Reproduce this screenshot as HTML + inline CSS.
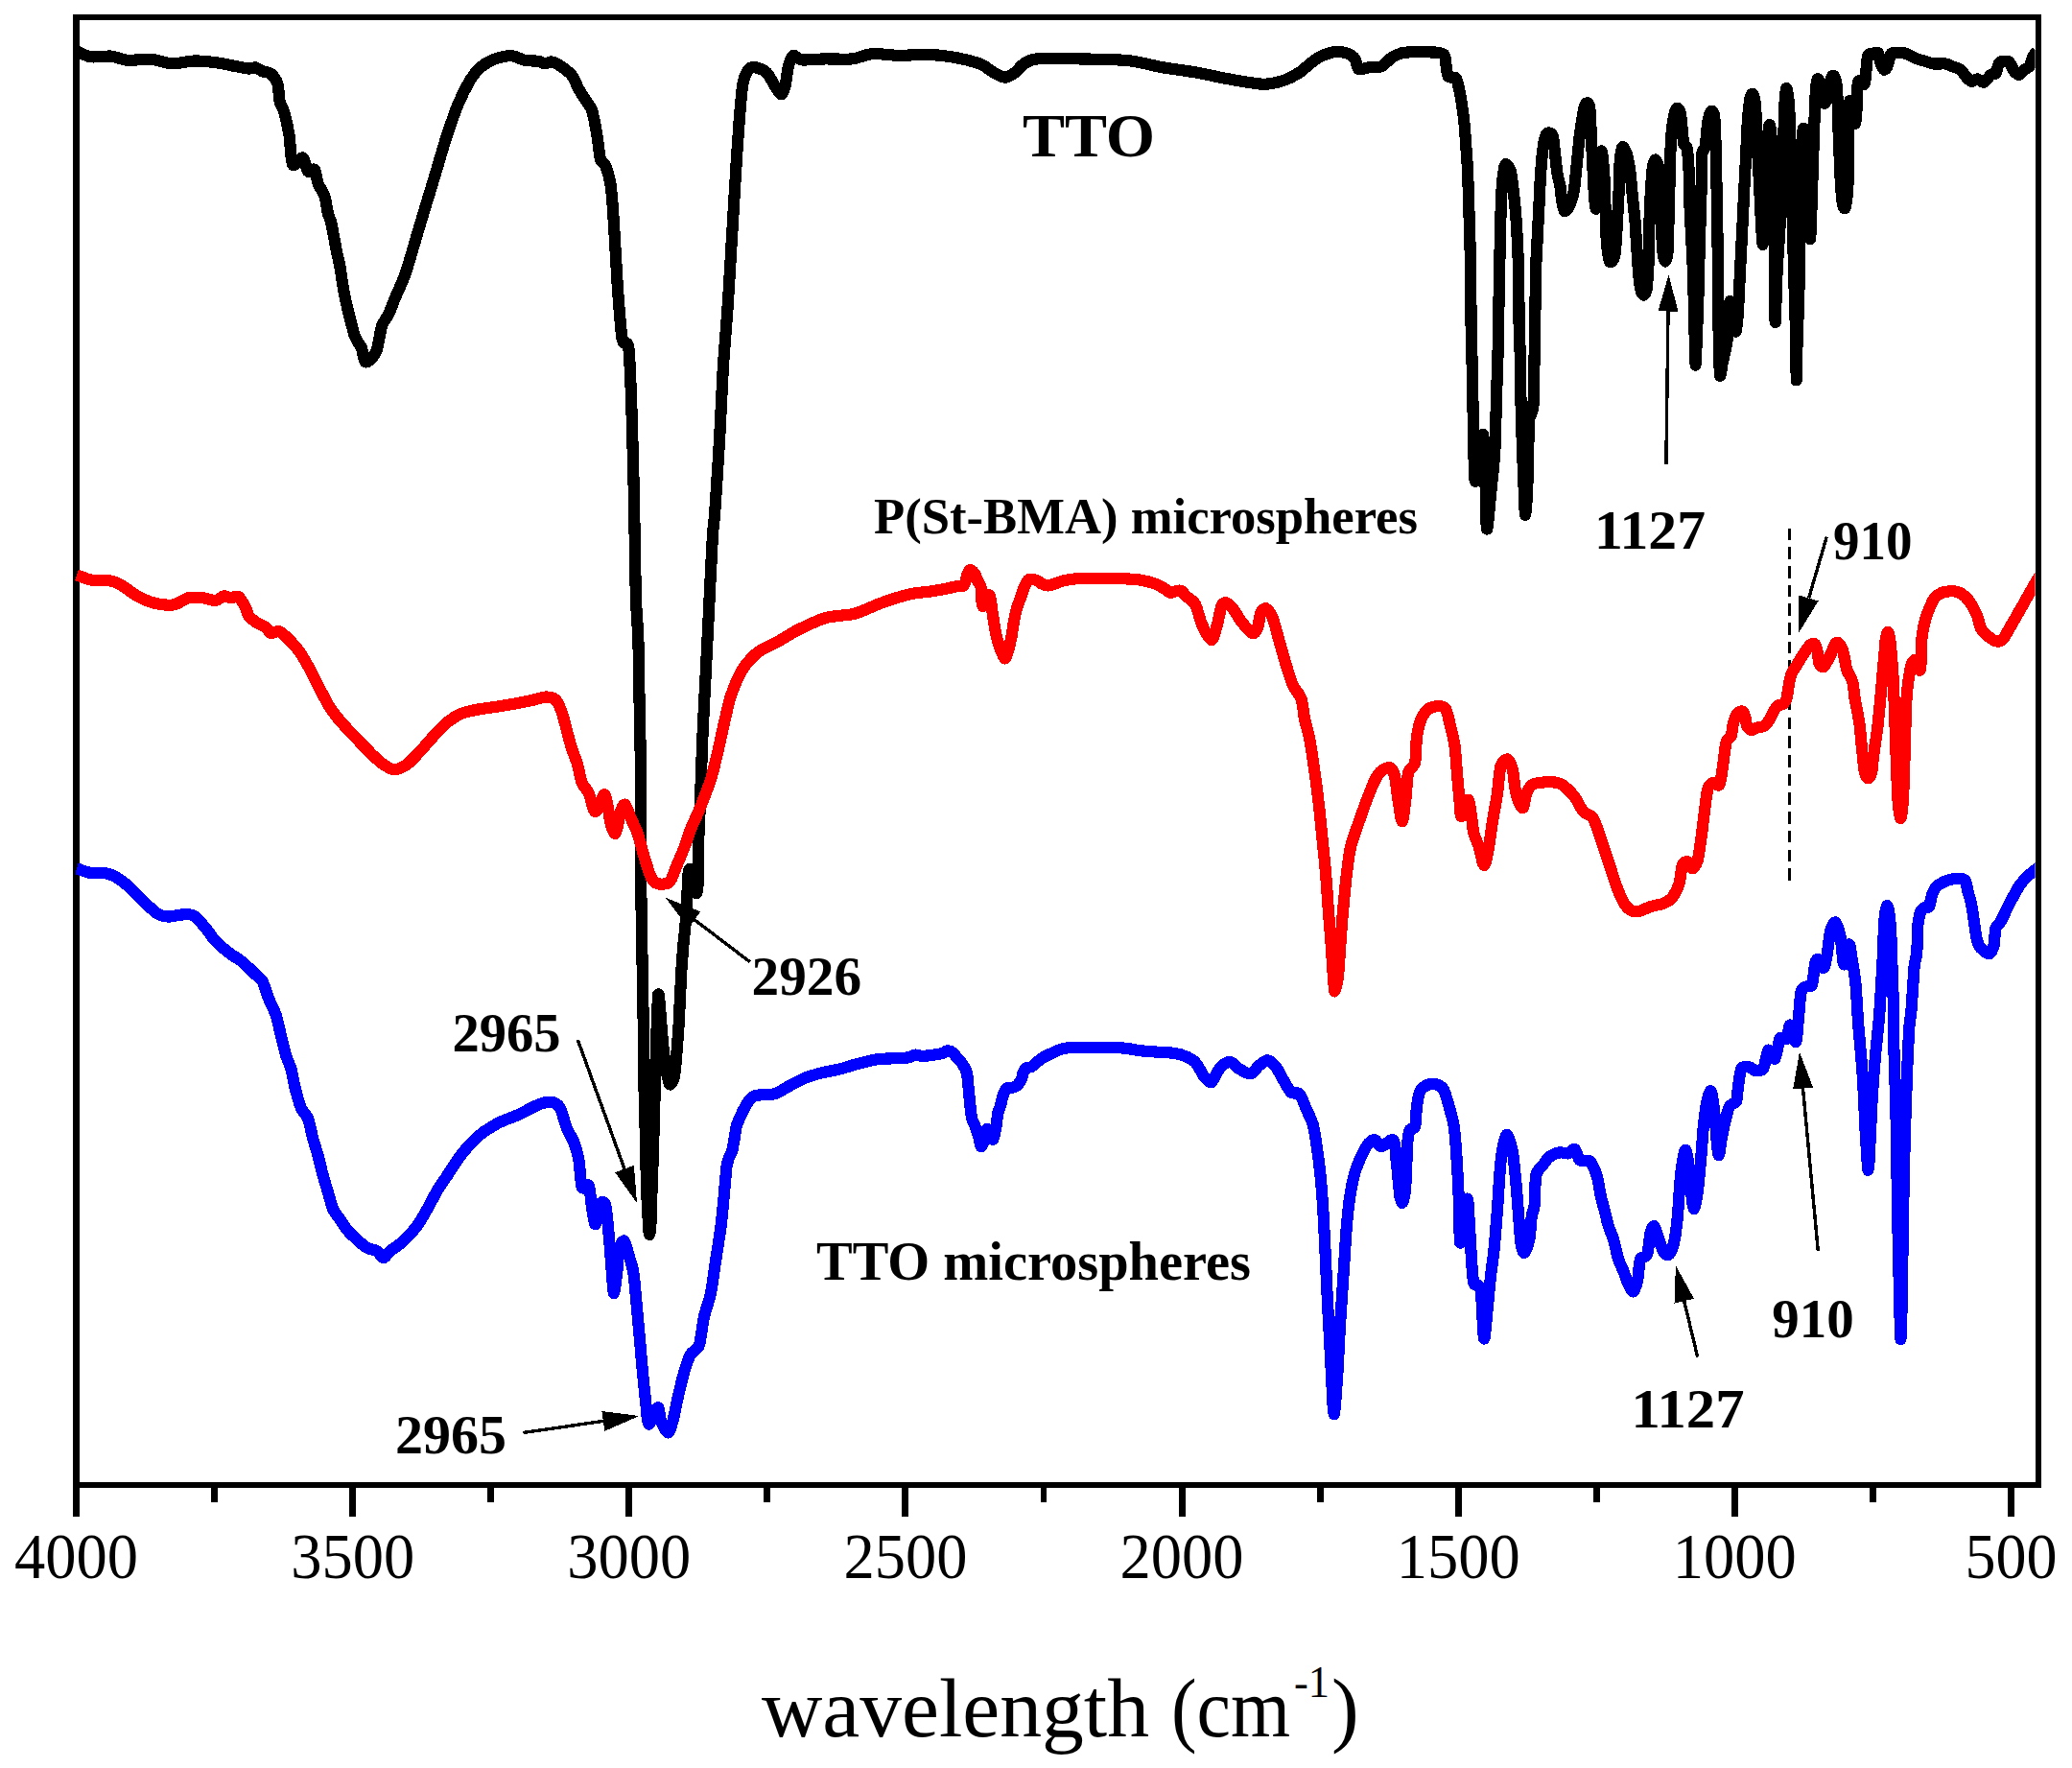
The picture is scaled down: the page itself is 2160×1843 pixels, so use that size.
<!DOCTYPE html>
<html><head><meta charset="utf-8"><title>FTIR spectra</title>
<style>html,body{margin:0;padding:0;background:#fff}svg{display:block}</style></head>
<body>
<svg width="2160" height="1843" viewBox="0 0 2160 1843" shape-rendering="crispEdges">
<rect x="0" y="0" width="2160" height="1843" fill="#fff"/>
<path d="M79.5,15 L79.5,1550.8 M2125,15 L2125,1550.8" fill="none" stroke="#000" stroke-width="6.9"/>
<path d="M76.05,18 L2128.45,18 M76.05,1547.8 L2128.45,1547.8" fill="none" stroke="#000" stroke-width="6"/>
<path d="M79.5,1547.8 L79.5,1580.5 M367.6,1547.8 L367.6,1580.5 M655.8,1547.8 L655.8,1580.5 M943.9,1547.8 L943.9,1580.5 M1232.1,1547.8 L1232.1,1580.5 M1520.2,1547.8 L1520.2,1580.5 M1808.3,1547.8 L1808.3,1580.5 M2096.5,1547.8 L2096.5,1580.5 M223.6,1547.8 L223.6,1566 M511.7,1547.8 L511.7,1566 M799.8,1547.8 L799.8,1566 M1088.0,1547.8 L1088.0,1566 M1376.1,1547.8 L1376.1,1566 M1664.3,1547.8 L1664.3,1566 M1952.4,1547.8 L1952.4,1566" fill="none" stroke="#000" stroke-width="6.9"/>
<path d="M1865.4,917.8 L1865.4,543.7" stroke="#000" stroke-width="3.2" stroke-dasharray="12.6,7.1" fill="none"/>
<defs><clipPath id="cp"><rect x="76.05" y="18" width="2045.5" height="1529.8"/></clipPath></defs>
<path clip-path="url(#cp)" d="M80.0,53.3 C82.1,54.1 89.7,58.6 94.7,59.3 C99.7,60.0 110.3,58.1 115.7,58.6 C121.1,59.1 127.4,62.4 133.3,62.8 C139.2,63.2 151.4,61.2 157.8,61.7 C164.2,62.2 172.5,66.0 178.9,66.3 C185.3,66.6 196.5,63.6 203.4,63.5 C210.3,63.4 222.1,64.8 228.0,65.6 C233.9,66.4 241.1,68.3 245.5,69.1 C249.9,69.9 256.6,71.3 259.5,71.5 C262.4,71.7 264.5,70.1 266.5,70.5 C268.5,70.9 271.4,73.4 273.6,74.3 C275.8,75.2 280.1,75.0 282.3,76.8 C284.5,78.6 288.0,83.1 289.3,87.3 C290.6,91.5 290.8,102.4 291.8,106.6 C292.8,110.8 294.9,112.2 296.3,117.1 C297.7,122.0 300.4,134.1 301.6,141.7 C302.8,149.3 303.1,168.3 305.1,171.5 C307.1,174.7 313.4,163.5 315.6,164.5 C317.8,165.5 319.2,176.8 320.9,178.5 C322.6,180.2 326.4,175.1 327.9,176.8 C329.4,178.5 329.9,186.9 331.4,190.8 C332.9,194.7 336.9,200.4 338.4,204.8 C339.9,209.2 340.9,218.4 341.9,222.3 C342.9,226.2 344.2,227.5 345.4,232.9 C346.6,238.3 349.5,254.8 350.7,260.9 C351.9,267.0 353.2,271.3 354.2,276.7 C355.2,282.1 356.7,293.9 357.7,299.5 C358.7,305.1 360.2,312.6 361.2,317.0 C362.2,321.4 363.5,326.4 364.7,331.1 C365.9,335.8 368.3,346.2 370.0,350.7 C371.7,355.2 375.5,359.3 377.0,363.0 C378.5,366.7 379.0,375.5 380.5,377.0 C382.0,378.5 385.8,375.2 387.5,373.5 C389.2,371.8 391.3,369.4 392.8,364.7 C394.3,360.0 396.4,345.0 398.1,339.8 C399.8,334.6 403.1,331.8 405.1,327.6 C407.1,323.4 409.7,315.9 412.1,310.0 C414.6,304.1 419.7,293.8 422.6,285.5 C425.5,277.2 430.2,260.2 433.1,250.4 C436.0,240.6 440.6,225.1 443.6,215.3 C446.6,205.5 451.2,190.1 454.2,180.3 C457.2,170.5 461.5,155.0 464.7,145.2 C467.9,135.4 473.3,118.9 477.0,110.1 C480.7,101.3 487.6,87.7 491.0,82.1 C494.4,76.5 498.1,72.7 501.5,69.8 C504.9,66.9 511.1,63.3 515.5,61.7 C519.9,60.1 528.7,58.0 533.1,58.2 C537.5,58.4 543.2,62.0 547.1,62.8 C551.0,63.6 558.2,63.3 561.1,63.8 C564.0,64.3 566.1,66.2 568.1,66.3 C570.1,66.4 572.7,64.0 575.2,64.5 C577.7,65.0 582.8,67.8 585.7,69.8 C588.6,71.8 593.8,75.4 596.2,78.6 C598.7,81.8 601.0,88.7 603.2,92.6 C605.4,96.5 610.0,103.4 612.0,106.6 C614.0,109.8 615.7,110.5 617.2,115.4 C618.7,120.3 621.3,134.6 622.5,141.7 C623.7,148.8 624.8,161.8 626.0,166.2 C627.2,170.6 629.8,169.5 631.3,173.2 C632.8,176.9 635.4,186.1 636.5,192.5 C637.6,198.9 638.3,208.7 639.0,218.8 C639.7,228.9 641.0,251.6 641.8,264.4 C642.6,277.2 643.6,297.4 644.6,310.0 C645.6,322.6 647.3,347.0 648.8,354.2 C650.3,361.4 653.9,354.3 655.1,361.2 C656.3,368.1 657.0,390.0 657.6,403.3 C658.2,416.6 658.8,438.7 659.3,455.9 C659.8,473.1 660.6,503.1 661.1,526.1 C661.6,549.1 662.2,600.5 662.8,620.0 C663.4,639.5 664.8,651.5 665.3,665.2 C665.8,678.9 666.0,703.1 666.3,717.8 C666.6,732.5 667.1,753.2 667.4,770.4 C667.7,787.6 668.3,823.7 668.4,840.6 C668.5,857.5 667.9,875.4 667.9,891.2 C667.9,907.0 668.4,936.2 668.7,953.7 C669.0,971.2 669.5,1000.3 669.8,1016.1 C670.1,1031.9 670.5,1053.1 670.7,1066.8 C670.9,1080.5 670.7,1098.4 671.0,1113.7 C671.3,1129.0 672.2,1158.6 672.6,1176.1 C673.0,1193.6 673.6,1224.5 674.1,1238.5 C674.6,1252.5 675.6,1269.2 676.0,1276.0 C676.4,1282.8 676.8,1286.9 677.1,1286.9 C677.4,1286.9 678.0,1282.8 678.4,1276.0 C678.8,1269.2 679.2,1250.3 679.6,1238.5 C680.0,1226.7 680.8,1205.9 681.2,1191.7 C681.6,1177.5 682.3,1151.3 682.7,1137.1 C683.1,1122.9 683.6,1102.2 684.0,1090.2 C684.4,1078.2 685.1,1058.7 685.4,1051.2 C685.7,1043.7 686.0,1037.3 686.3,1036.4 C686.6,1035.5 687.2,1040.7 687.6,1045.0 C688.0,1049.3 688.7,1060.0 689.3,1066.8 C689.9,1073.6 690.8,1086.4 691.6,1093.4 C692.4,1100.4 693.9,1111.7 694.8,1116.8 C695.7,1121.9 697.0,1128.5 697.9,1130.0 C698.8,1131.5 700.2,1129.1 701.0,1127.7 C701.8,1126.3 702.7,1124.1 703.3,1119.9 C703.9,1115.7 704.8,1105.4 705.4,1098.0 C706.0,1090.6 707.0,1078.5 707.7,1066.8 C708.4,1055.1 709.5,1026.0 710.2,1014.5 C710.9,1003.0 711.8,992.3 712.4,984.9 C713.0,977.5 714.2,968.5 714.7,961.5 C715.2,954.5 715.9,941.7 716.3,934.9 C716.7,928.1 717.1,917.1 717.4,913.1 C717.7,909.1 718.1,906.2 718.6,906.0 C719.1,905.8 720.3,908.8 721.0,911.5 C721.7,914.2 722.6,922.9 723.3,925.6 C724.0,928.3 725.5,931.9 726.1,931.0 C726.7,930.1 727.4,927.1 727.7,919.3 C728.0,911.5 728.1,883.9 728.3,875.6 C728.5,867.3 728.6,864.9 728.8,860.0 C729.0,855.1 729.3,853.1 729.8,840.6 C730.3,828.1 731.5,790.0 732.3,770.4 C733.1,750.8 734.8,719.9 735.8,700.3 C736.8,680.7 738.3,649.7 739.3,630.1 C740.3,610.5 742.0,573.6 742.8,560.0 C743.6,546.4 744.3,547.7 745.3,533.1 C746.3,518.5 749.0,476.5 750.2,455.9 C751.4,435.3 752.5,405.4 753.7,385.8 C754.9,366.2 757.6,335.2 758.9,315.6 C760.2,296.0 761.9,265.1 763.1,245.5 C764.3,225.9 766.2,192.6 767.3,175.4 C768.4,158.2 769.9,135.0 770.9,122.7 C771.9,110.4 773.2,94.6 774.4,87.7 C775.6,80.8 777.9,76.1 779.6,73.6 C781.3,71.1 783.9,69.8 786.6,70.1 C789.3,70.4 795.9,72.7 798.9,75.4 C801.9,78.1 805.6,86.2 807.7,89.4 C809.8,92.6 812.5,97.9 814.0,98.2 C815.5,98.5 817.1,95.1 818.2,91.2 C819.3,87.3 820.5,74.8 821.7,70.1 C822.9,65.4 825.0,59.0 827.0,57.9 C829.0,56.8 831.0,61.9 835.7,62.4 C840.4,62.9 852.9,61.5 860.3,61.4 C867.7,61.3 881.4,62.1 888.3,61.4 C895.2,60.7 902.5,56.6 909.4,56.1 C916.3,55.6 929.5,57.8 937.4,57.9 C945.3,58.0 957.6,56.6 965.5,56.8 C973.4,57.0 985.7,58.2 993.6,59.6 C1001.5,61.0 1015.7,64.4 1021.6,66.6 C1027.5,68.8 1031.9,73.4 1035.6,75.4 C1039.3,77.4 1044.7,80.7 1047.9,80.7 C1051.1,80.7 1055.7,77.4 1058.4,75.4 C1061.1,73.4 1064.0,68.6 1067.2,66.6 C1070.4,64.6 1073.3,62.1 1081.2,61.4 C1089.1,60.7 1110.0,61.2 1123.3,61.4 C1136.6,61.6 1163.6,61.9 1175.9,63.1 C1188.2,64.3 1201.2,68.4 1211.0,70.1 C1220.8,71.8 1236.3,73.7 1246.1,75.4 C1255.9,77.1 1271.3,80.7 1281.1,82.4 C1290.9,84.1 1308.3,87.4 1316.2,87.7 C1324.1,88.0 1331.8,85.9 1337.2,84.2 C1342.6,82.5 1349.9,78.6 1354.8,75.4 C1359.7,72.2 1367.4,64.3 1372.3,61.4 C1377.2,58.5 1385.4,55.2 1389.8,54.4 C1394.2,53.6 1400.7,54.4 1403.9,55.4 C1407.1,56.4 1410.9,59.1 1412.6,61.4 C1414.3,63.7 1414.0,70.7 1416.2,71.9 C1418.4,73.1 1425.1,70.4 1428.4,70.1 C1431.7,69.8 1436.9,70.8 1440.0,69.4 C1443.1,68.0 1447.6,62.3 1450.5,60.3 C1453.4,58.3 1457.6,56.3 1461.0,55.4 C1464.4,54.5 1472.4,54.2 1475.1,54.0 C1477.8,53.8 1477.8,54.1 1480.0,54.2 C1482.2,54.3 1488.0,54.3 1490.5,54.4 C1493.0,54.5 1495.4,54.4 1497.5,54.7 C1499.6,55.0 1504.0,55.3 1505.4,56.8 C1506.8,58.3 1506.6,62.4 1507.2,65.6 C1507.8,68.8 1508.3,77.4 1509.8,79.6 C1511.3,81.8 1516.1,79.4 1517.7,81.4 C1519.3,83.4 1520.3,89.9 1521.2,93.6 C1522.1,97.3 1523.1,102.8 1523.8,107.7 C1524.5,112.6 1525.9,122.6 1526.5,128.7 C1527.1,134.8 1527.7,144.6 1528.2,151.5 C1528.7,158.4 1529.6,169.2 1530.0,177.8 C1530.4,186.4 1530.9,203.1 1531.2,212.9 C1531.5,222.7 1532.0,238.2 1532.3,248.0 C1532.6,257.8 1532.9,271.5 1533.1,283.0 C1533.3,294.5 1533.4,322.7 1533.5,330.0 C1533.6,337.3 1533.4,329.5 1533.5,335.1 C1533.6,340.7 1534.2,360.3 1534.4,370.1 C1534.6,379.9 1535.0,395.4 1535.2,405.2 C1535.4,415.0 1535.6,430.5 1535.8,440.3 C1536.0,450.1 1536.2,466.8 1536.5,475.4 C1536.8,484.0 1537.2,501.7 1537.9,501.7 C1538.6,501.7 1540.3,482.3 1541.4,475.4 C1542.5,468.5 1544.9,452.6 1545.8,452.6 C1546.7,452.6 1547.1,467.3 1547.5,475.4 C1547.9,483.5 1548.3,499.7 1548.7,510.4 C1549.1,521.1 1549.3,551.6 1550.1,551.6 C1550.9,551.6 1553.4,521.1 1554.5,510.4 C1555.6,499.7 1557.3,485.2 1558.0,475.4 C1558.7,465.6 1559.0,450.1 1559.3,440.3 C1559.6,430.5 1560.0,415.0 1560.3,405.2 C1560.6,395.4 1561.2,379.9 1561.5,370.1 C1561.8,360.3 1561.9,344.8 1562.1,335.1 C1562.3,325.4 1562.6,310.3 1562.8,300.6 C1563.0,290.9 1563.3,275.3 1563.5,265.5 C1563.7,255.7 1564.0,240.2 1564.3,230.4 C1564.6,220.6 1565.2,202.8 1565.7,195.4 C1566.2,188.0 1567.1,181.2 1567.7,177.8 C1568.3,174.4 1568.8,171.2 1569.8,171.2 C1570.8,171.2 1573.7,174.4 1574.7,177.8 C1575.8,181.2 1576.6,189.3 1577.3,195.4 C1578.0,201.5 1579.4,214.3 1580.0,221.7 C1580.6,229.1 1581.3,239.4 1581.7,248.0 C1582.1,256.6 1582.8,271.5 1583.1,283.0 C1583.4,294.5 1583.4,322.7 1583.5,330.0 C1583.6,337.3 1583.3,329.5 1583.5,335.1 C1583.7,340.7 1584.5,360.3 1584.7,370.1 C1584.9,379.9 1585.0,395.4 1585.2,405.2 C1585.4,415.0 1585.8,430.5 1586.1,440.3 C1586.4,450.1 1586.9,465.6 1587.3,475.4 C1587.7,485.2 1588.3,501.8 1588.7,510.4 C1589.1,519.0 1589.6,536.7 1590.1,536.7 C1590.6,536.7 1591.7,521.4 1592.2,510.4 C1592.7,499.4 1593.2,468.1 1593.5,457.8 C1593.8,447.5 1593.6,441.7 1594.3,436.8 C1595.0,431.9 1597.7,432.0 1598.4,422.7 C1599.1,413.4 1599.3,384.8 1599.6,370.1 C1599.9,355.4 1600.3,329.7 1600.5,317.5 C1600.7,305.3 1600.7,292.7 1601.0,283.0 C1601.3,273.3 1602.2,257.8 1602.7,248.0 C1603.2,238.2 1604.0,222.7 1604.5,212.9 C1605.0,203.1 1605.7,186.4 1606.3,177.8 C1606.9,169.2 1608.2,156.7 1608.9,151.5 C1609.6,146.3 1610.8,142.8 1611.5,141.0 C1612.2,139.2 1613.1,138.4 1614.1,138.4 C1615.1,138.4 1617.6,138.9 1618.5,141.0 C1619.4,143.1 1619.8,149.4 1620.3,153.3 C1620.8,157.2 1621.5,164.9 1622.0,169.1 C1622.5,173.3 1623.2,179.7 1623.8,183.1 C1624.4,186.5 1625.8,189.9 1626.4,193.6 C1627.0,197.3 1627.6,205.7 1628.2,209.4 C1628.8,213.1 1629.8,218.9 1630.8,219.9 C1631.8,220.9 1634.1,218.1 1635.2,216.4 C1636.3,214.7 1637.8,210.5 1638.7,207.6 C1639.6,204.7 1640.7,199.6 1641.3,195.4 C1641.9,191.2 1642.6,182.7 1643.1,177.8 C1643.6,172.9 1644.3,165.2 1644.8,160.3 C1645.3,155.4 1646.0,147.6 1646.6,142.7 C1647.2,137.8 1648.5,129.6 1649.2,125.2 C1649.9,120.8 1651.1,113.7 1651.8,111.2 C1652.5,108.7 1653.8,107.3 1654.5,107.3 C1655.2,107.3 1656.6,108.7 1657.1,111.2 C1657.6,113.7 1657.7,120.8 1658.0,125.2 C1658.3,129.6 1658.7,137.8 1658.9,142.7 C1659.1,147.6 1659.5,155.4 1659.7,160.3 C1659.9,165.2 1660.3,172.9 1660.6,177.8 C1660.9,182.7 1661.2,191.0 1661.5,195.4 C1661.8,199.8 1662.0,206.3 1662.4,209.4 C1662.8,212.5 1663.5,219.3 1664.1,217.3 C1664.7,215.3 1666.1,203.7 1666.8,195.4 C1667.5,187.1 1668.7,160.2 1669.4,157.7 C1670.1,155.2 1671.5,172.5 1672.0,177.8 C1672.5,183.1 1672.5,185.6 1672.9,195.4 C1673.3,205.2 1673.9,237.2 1674.6,248.0 C1675.3,258.8 1676.9,270.1 1678.1,272.5 C1679.3,274.9 1682.3,271.4 1683.4,265.5 C1684.5,259.6 1685.4,240.2 1686.0,230.4 C1686.6,220.6 1687.4,204.0 1687.8,195.4 C1688.2,186.8 1688.2,175.0 1688.7,169.1 C1689.2,163.2 1690.3,154.5 1691.3,153.3 C1692.3,152.1 1694.6,156.9 1695.7,160.3 C1696.8,163.7 1698.3,171.7 1699.2,177.8 C1700.1,183.9 1701.1,196.7 1701.8,204.1 C1702.5,211.5 1703.9,223.0 1704.5,230.4 C1705.1,237.8 1705.7,249.3 1706.2,256.7 C1706.7,264.1 1707.5,276.9 1708.0,283.0 C1708.5,289.1 1709.4,297.2 1710.1,300.6 C1710.8,304.0 1712.3,307.4 1713.2,307.6 C1714.1,307.8 1715.7,305.7 1716.4,302.3 C1717.1,298.9 1717.8,288.2 1718.1,283.0 C1718.4,277.8 1718.6,272.9 1718.8,265.5 C1719.0,258.1 1719.2,240.2 1719.5,230.4 C1719.8,220.6 1720.6,203.3 1721.1,195.4 C1721.6,187.5 1722.3,178.4 1722.9,174.3 C1723.5,170.2 1724.6,166.4 1725.5,166.4 C1726.4,166.4 1728.4,170.2 1729.0,174.3 C1729.6,178.4 1729.5,187.5 1729.9,195.4 C1730.3,203.3 1731.1,221.1 1731.6,230.4 C1732.1,239.7 1732.8,256.1 1733.4,262.0 C1734.0,267.9 1735.3,272.5 1736.0,272.5 C1736.7,272.5 1738.1,267.9 1738.6,262.0 C1739.1,256.1 1739.2,239.7 1739.5,230.4 C1739.8,221.1 1740.1,205.2 1740.4,195.4 C1740.7,185.6 1740.9,168.9 1741.3,160.3 C1741.7,151.7 1742.4,139.9 1743.0,134.0 C1743.6,128.1 1745.0,121.2 1745.7,118.2 C1746.4,115.2 1747.4,112.6 1748.3,112.6 C1749.2,112.6 1751.1,115.2 1751.8,118.2 C1752.5,121.2 1753.1,129.6 1753.6,134.0 C1754.1,138.4 1754.6,146.9 1755.3,149.8 C1756.0,152.7 1758.1,151.1 1758.8,155.0 C1759.5,158.9 1760.2,169.7 1760.6,177.8 C1761.0,185.9 1761.0,203.1 1761.4,212.9 C1761.8,222.7 1762.7,238.2 1763.2,248.0 C1763.7,257.8 1764.5,271.5 1764.9,283.0 C1765.3,294.5 1765.9,320.3 1766.2,330.0 C1766.5,339.7 1766.5,345.5 1766.7,352.6 C1766.9,359.7 1767.3,380.7 1767.6,380.7 C1767.9,380.7 1768.4,361.4 1768.8,352.6 C1769.2,343.8 1769.9,324.8 1770.2,317.5 C1770.5,310.2 1770.3,310.3 1770.6,300.6 C1770.9,290.9 1771.6,260.3 1772.0,248.0 C1772.4,235.7 1772.9,222.7 1773.2,212.9 C1773.5,203.1 1773.7,185.4 1773.9,177.8 C1774.1,170.2 1774.1,161.9 1774.6,158.5 C1775.1,155.1 1777.0,156.0 1777.6,153.3 C1778.2,150.6 1778.6,143.1 1779.0,139.2 C1779.4,135.3 1780.1,128.3 1780.7,125.2 C1781.3,122.1 1782.4,118.6 1783.0,117.3 C1783.6,116.0 1784.5,115.5 1785.1,116.1 C1785.7,116.7 1786.8,118.0 1787.2,121.7 C1787.6,125.4 1788.0,134.8 1788.3,142.7 C1788.6,150.6 1788.9,168.0 1789.1,177.8 C1789.3,187.6 1789.8,200.6 1790.0,212.9 C1790.2,225.2 1790.5,249.1 1790.7,265.5 C1790.9,281.9 1791.1,317.8 1791.3,330.0 C1791.5,342.2 1791.6,344.0 1791.8,352.6 C1792.0,361.2 1792.5,387.5 1793.0,391.2 C1793.5,394.9 1794.9,382.3 1795.6,378.9 C1796.3,375.5 1797.6,370.3 1798.3,366.6 C1799.0,362.9 1800.3,357.0 1800.9,352.6 C1801.5,348.2 1802.2,340.5 1802.6,335.1 C1803.0,329.7 1802.9,314.5 1803.5,314.0 C1804.1,313.5 1806.1,327.2 1807.0,331.6 C1807.9,336.0 1809.0,346.5 1809.7,345.6 C1810.4,344.7 1811.3,333.9 1811.9,325.1 C1812.5,316.3 1813.3,296.3 1814.0,283.0 C1814.7,269.7 1816.1,242.7 1816.7,230.4 C1817.3,218.1 1817.9,205.2 1818.4,195.4 C1818.9,185.6 1819.7,170.1 1820.2,160.3 C1820.7,150.5 1821.3,133.3 1821.9,125.2 C1822.5,117.1 1823.8,106.2 1824.5,102.4 C1825.2,98.6 1826.5,97.3 1827.2,98.0 C1827.9,98.7 1829.2,102.7 1829.8,107.7 C1830.4,112.7 1830.8,126.6 1831.2,134.0 C1831.6,141.4 1832.0,151.7 1832.4,160.3 C1832.8,168.9 1833.7,185.6 1834.2,195.4 C1834.7,205.2 1835.4,222.1 1835.9,230.4 C1836.4,238.7 1837.2,255.0 1837.7,255.0 C1838.2,255.0 1839.0,241.2 1839.5,230.4 C1840.0,219.6 1840.7,190.1 1841.2,177.8 C1841.7,165.5 1842.5,149.4 1843.0,142.7 C1843.5,136.0 1844.2,130.1 1844.7,130.1 C1845.2,130.1 1846.1,136.0 1846.5,142.7 C1846.9,149.4 1846.9,165.5 1847.3,177.8 C1847.7,190.1 1848.7,215.7 1849.1,230.4 C1849.5,245.1 1850.0,269.1 1850.2,283.0 C1850.4,296.9 1850.4,323.2 1850.5,330.0 C1850.6,336.8 1850.6,338.2 1850.9,331.6 C1851.2,325.0 1851.9,297.2 1852.6,283.0 C1853.3,268.8 1855.1,245.1 1855.8,230.4 C1856.5,215.7 1857.4,190.1 1857.9,177.8 C1858.4,165.5 1858.9,152.5 1859.3,142.7 C1859.7,132.9 1860.1,114.8 1860.5,107.7 C1860.9,100.6 1861.7,92.2 1862.3,92.2 C1862.9,92.2 1864.3,100.6 1864.9,107.7 C1865.5,114.8 1865.9,132.9 1866.3,142.7 C1866.7,152.5 1867.2,165.5 1867.5,177.8 C1867.8,190.1 1868.3,215.7 1868.7,230.4 C1869.1,245.1 1869.7,269.1 1870.1,283.0 C1870.5,296.9 1871.2,320.3 1871.5,330.0 C1871.8,339.7 1872.0,343.3 1872.2,352.6 C1872.4,361.9 1872.6,396.4 1872.8,396.4 C1873.0,396.4 1873.3,363.6 1873.6,352.6 C1873.9,341.6 1874.8,327.2 1875.1,317.5 C1875.4,307.8 1875.6,295.2 1875.8,283.0 C1876.0,270.8 1876.5,245.1 1876.8,230.4 C1877.1,215.7 1877.7,190.1 1878.0,177.8 C1878.3,165.5 1878.6,148.8 1878.9,142.7 C1879.2,136.6 1879.8,132.8 1880.3,134.0 C1880.8,135.2 1881.9,142.9 1882.4,151.5 C1882.9,160.1 1883.8,184.4 1884.2,195.4 C1884.6,206.4 1885.2,222.9 1885.6,230.4 C1886.0,237.9 1886.8,251.2 1887.2,248.8 C1887.6,246.4 1888.2,225.3 1888.6,212.9 C1889.0,200.5 1889.9,172.6 1890.3,160.3 C1890.7,148.0 1891.1,134.5 1891.5,125.2 C1891.9,115.9 1892.5,99.6 1892.9,93.6 C1893.3,87.6 1894.0,82.8 1894.7,82.3 C1895.4,81.8 1897.2,86.5 1898.2,90.1 C1899.2,93.7 1900.7,106.5 1901.7,107.7 C1902.7,108.9 1904.3,102.1 1905.2,98.9 C1906.1,95.7 1906.9,87.7 1907.8,84.9 C1908.7,82.1 1910.3,78.0 1911.3,78.7 C1912.3,79.4 1914.2,83.6 1914.9,90.1 C1915.6,96.6 1915.7,115.4 1916.1,125.2 C1916.5,135.0 1917.1,150.5 1917.5,160.3 C1917.9,170.1 1918.7,188.0 1919.2,195.4 C1919.7,202.8 1920.4,210.0 1921.0,212.9 C1921.6,215.8 1922.9,218.8 1923.6,216.4 C1924.3,214.0 1925.8,203.3 1926.3,195.4 C1926.8,187.5 1926.9,172.6 1927.1,160.3 C1927.3,148.0 1927.5,114.6 1928.0,107.7 C1928.5,100.8 1929.7,108.3 1930.6,111.2 C1931.5,114.1 1933.4,129.2 1934.1,128.7 C1934.8,128.2 1935.5,113.6 1935.9,107.7 C1936.3,101.8 1936.2,89.9 1936.8,86.6 C1937.4,83.3 1939.3,83.9 1940.3,84.0 C1941.3,84.1 1943.1,89.1 1943.8,87.5 C1944.5,85.9 1945.0,76.8 1945.5,72.6 C1946.0,68.4 1946.3,60.0 1947.3,57.7 C1948.3,55.4 1951.1,56.3 1952.6,55.9 C1954.1,55.5 1956.7,53.7 1957.8,55.1 C1958.9,56.5 1959.5,63.1 1960.4,65.6 C1961.3,68.0 1963.0,72.1 1964.0,72.6 C1965.0,73.1 1966.5,71.3 1967.5,69.1 C1968.5,66.9 1969.9,58.8 1971.0,56.8 C1972.1,54.8 1973.6,55.3 1975.4,55.1 C1977.2,54.9 1981.9,54.7 1984.1,55.1 C1986.3,55.5 1989.1,56.8 1991.1,57.7 C1993.1,58.6 1995.9,60.3 1998.1,61.2 C2000.3,62.1 2004.4,63.1 2006.9,63.8 C2009.4,64.5 2012.7,66.1 2015.7,66.5 C2018.7,66.9 2025.3,66.1 2028.0,66.5 C2030.7,66.9 2032.8,68.2 2035.0,69.1 C2037.2,70.0 2041.5,70.9 2043.7,72.6 C2045.9,74.3 2049.1,79.7 2050.8,81.4 C2052.5,83.1 2054.5,84.8 2056.0,84.9 C2057.5,85.0 2059.6,82.2 2061.3,82.3 C2063.0,82.4 2066.3,86.4 2068.3,85.8 C2070.3,85.2 2073.6,79.3 2075.3,77.9 C2077.0,76.5 2079.4,77.8 2080.6,76.1 C2081.8,74.4 2082.9,67.3 2084.1,65.6 C2085.3,63.9 2087.8,63.9 2089.3,63.8 C2090.8,63.7 2093.1,63.2 2094.6,64.7 C2096.1,66.2 2098.4,72.6 2099.9,74.4 C2101.4,76.2 2103.6,78.2 2105.1,77.9 C2106.6,77.6 2108.9,73.8 2110.4,72.6 C2111.9,71.4 2114.3,71.2 2115.6,69.1 C2116.9,67.0 2118.9,59.8 2120.0,57.7 C2121.1,55.6 2123.0,54.7 2123.5,54.2" fill="none" stroke="#000" stroke-width="12.2" stroke-linejoin="round" stroke-linecap="butt"/>
<path clip-path="url(#cp)" d="M80.0,599.3 C82.1,600.0 89.7,603.6 94.7,604.5 C99.7,605.4 111.3,604.9 115.7,605.6 C120.1,606.3 122.9,607.8 126.3,609.8 C129.7,611.8 136.4,617.2 140.3,619.6 C144.2,622.0 150.4,625.1 154.3,626.6 C158.2,628.1 164.4,629.6 168.3,630.1 C172.2,630.6 178.5,631.1 182.4,630.1 C186.3,629.1 192.5,624.1 196.4,623.1 C200.3,622.1 206.5,622.7 210.4,623.1 C214.3,623.5 221.3,626.1 224.5,625.9 C227.7,625.7 231.0,621.8 233.2,621.4 C235.4,621.0 238.0,623.0 240.2,623.1 C242.4,623.2 246.8,620.9 249.0,622.4 C251.2,623.9 254.5,630.8 256.0,633.6 C257.5,636.4 257.8,640.2 259.5,642.4 C261.2,644.6 265.8,647.8 268.3,649.4 C270.8,651.0 275.1,652.5 277.1,654.0 C279.1,655.5 280.3,659.4 282.3,660.0 C284.3,660.6 288.4,657.2 291.1,658.2 C293.8,659.2 298.7,664.1 301.6,667.0 C304.5,669.9 309.2,675.0 312.1,679.2 C315.0,683.4 319.6,691.4 322.6,696.8 C325.6,702.2 330.2,712.2 333.2,717.8 C336.2,723.4 340.8,732.4 343.7,737.1 C346.6,741.8 350.8,747.0 354.2,751.1 C357.6,755.2 364.3,762.0 368.2,766.2 C372.1,770.4 378.4,777.0 382.3,780.9 C386.2,784.8 392.4,791.3 396.3,794.3 C400.2,797.3 406.4,801.7 410.3,802.0 C414.2,802.3 420.5,799.4 424.4,796.7 C428.3,794.0 434.5,786.9 438.4,782.7 C442.3,778.5 448.5,771.1 452.4,766.9 C456.3,762.7 462.5,756.1 466.4,752.9 C470.3,749.7 476.1,746.0 480.5,744.1 C484.9,742.2 491.6,740.8 498.0,739.6 C504.4,738.4 518.2,736.7 526.1,735.4 C534.0,734.1 548.2,731.3 554.1,730.1 C560.0,728.9 564.7,726.8 568.1,726.6 C571.5,726.4 576.2,726.8 578.7,729.0 C581.2,731.2 584.0,737.8 585.7,742.4 C587.4,747.0 589.4,756.3 590.9,761.7 C592.4,767.1 594.7,776.2 596.2,780.9 C597.7,785.6 600.0,790.1 601.5,795.0 C603.0,799.9 605.0,811.6 606.7,816.0 C608.4,820.4 612.0,822.6 613.7,826.5 C615.4,830.4 617.8,841.6 619.0,844.1 C620.2,846.6 621.0,846.3 622.5,844.1 C624.0,841.9 628.0,829.3 629.5,828.3 C631.0,827.3 632.0,832.9 633.0,837.1 C634.0,841.3 635.3,853.7 636.5,858.1 C637.7,862.5 640.3,870.3 641.8,868.6 C643.3,866.9 645.7,850.0 647.1,845.8 C648.5,841.6 650.1,837.8 651.6,838.8 C653.1,839.8 655.8,848.6 657.6,852.8 C659.4,857.0 662.6,862.9 664.6,868.6 C666.6,874.3 669.6,886.8 671.6,893.2 C673.6,899.6 676.6,910.3 678.6,914.2 C680.6,918.1 682.9,920.5 685.6,921.2 C688.3,921.9 695.2,922.0 697.9,919.5 C700.6,917.0 702.7,908.9 704.9,903.7 C707.1,898.5 711.6,888.1 713.7,882.6 C715.8,877.1 717.6,870.3 720.0,864.4 C722.4,858.5 727.6,847.9 730.5,840.6 C733.4,833.3 738.5,820.4 741.0,812.5 C743.5,804.6 746.1,792.8 748.1,784.5 C750.1,776.2 753.1,761.3 755.1,752.9 C757.1,744.5 759.6,732.2 762.1,724.8 C764.6,717.4 769.7,705.7 772.6,700.3 C775.5,694.9 780.2,689.5 783.1,686.3 C786.0,683.1 789.7,680.0 793.6,677.5 C797.5,675.0 805.8,671.7 811.2,668.7 C816.6,665.7 825.3,659.8 832.2,656.4 C839.1,653.0 852.4,646.5 860.3,644.2 C868.2,641.9 882.8,641.4 888.3,640.3 C893.8,639.2 895.8,638.1 899.9,636.5 C904.0,634.9 912.5,631.0 917.4,629.1 C922.3,627.2 930.1,624.6 935.0,623.1 C939.9,621.6 947.6,619.5 952.5,618.6 C957.4,617.7 965.9,617.1 970.1,616.5 C974.3,615.9 979.4,614.9 982.3,614.4 C985.2,613.9 988.9,613.0 991.1,612.6 C993.3,612.2 996.4,611.4 998.1,611.2 C999.8,611.0 1002.3,611.7 1003.4,611.2 C1004.5,610.7 1005.5,609.2 1006.2,607.3 C1006.9,605.4 1007.8,599.8 1008.6,597.9 C1009.4,596.0 1011.0,593.9 1012.1,594.0 C1013.2,594.1 1015.3,597.0 1016.3,598.6 C1017.3,600.2 1018.3,603.6 1019.2,605.6 C1020.1,607.6 1022.0,608.9 1022.7,612.6 C1023.4,616.3 1023.2,630.8 1024.4,631.9 C1025.6,633.0 1029.9,619.1 1031.4,620.3 C1032.9,621.5 1033.9,634.9 1034.9,640.7 C1035.9,646.5 1037.3,656.8 1038.4,661.7 C1039.5,666.6 1041.4,672.3 1042.6,675.7 C1043.8,679.1 1046.1,685.8 1047.2,686.3 C1048.3,686.8 1049.7,682.2 1050.7,679.2 C1051.7,676.2 1053.3,669.6 1054.2,665.2 C1055.1,660.8 1056.2,652.1 1057.0,647.7 C1057.8,643.3 1059.2,637.0 1060.2,633.6 C1061.2,630.2 1063.0,626.0 1064.0,623.1 C1065.0,620.2 1066.5,615.1 1067.5,612.6 C1068.5,610.1 1070.3,606.8 1071.1,605.6 C1071.9,604.4 1072.2,603.9 1073.5,603.8 C1074.8,603.7 1078.8,604.3 1080.5,604.9 C1082.2,605.5 1084.1,607.6 1085.8,608.4 C1087.5,609.2 1090.8,610.5 1092.8,610.5 C1094.8,610.5 1097.3,609.2 1099.8,608.4 C1102.2,607.6 1106.9,605.6 1110.3,604.9 C1113.7,604.2 1119.5,603.4 1124.4,603.1 C1129.3,602.8 1138.8,603.0 1145.4,603.0 C1152.0,603.0 1165.6,603.1 1171.7,603.3 C1177.8,603.5 1184.8,604.0 1189.2,604.7 C1193.6,605.4 1199.9,607.0 1203.3,608.2 C1206.7,609.4 1211.5,612.1 1213.8,613.5 C1216.1,614.9 1218.1,617.5 1219.8,617.9 C1221.5,618.3 1224.5,616.4 1226.1,616.1 C1227.7,615.8 1229.8,615.1 1231.3,615.8 C1232.8,616.5 1234.5,619.4 1236.6,621.4 C1238.7,623.4 1243.8,625.9 1246.1,630.1 C1248.4,634.3 1250.7,646.0 1253.1,651.2 C1255.5,656.4 1260.7,667.0 1262.9,667.0 C1265.1,667.0 1267.4,656.1 1268.9,651.2 C1270.4,646.3 1272.1,635.1 1273.4,631.9 C1274.7,628.7 1276.7,628.2 1278.3,628.4 C1279.9,628.6 1282.2,630.7 1284.6,633.6 C1287.0,636.5 1292.2,645.7 1295.2,649.4 C1298.2,653.1 1303.5,659.3 1305.7,660.0 C1307.9,660.7 1309.7,657.7 1310.9,654.7 C1312.1,651.7 1313.2,641.8 1314.4,638.9 C1315.6,636.0 1318.0,633.6 1319.7,634.3 C1321.4,635.0 1324.7,639.4 1326.7,644.2 C1328.7,649.0 1331.7,661.8 1333.7,668.7 C1335.7,675.6 1338.8,686.9 1340.8,693.3 C1342.8,699.7 1345.6,709.4 1347.8,714.3 C1350.0,719.2 1354.8,723.4 1356.5,728.3 C1358.2,733.2 1358.8,743.5 1360.0,749.4 C1361.2,755.3 1363.8,762.5 1365.3,770.4 C1366.8,778.3 1369.2,795.7 1370.6,805.5 C1372.0,815.3 1374.0,830.8 1375.1,840.6 C1376.2,850.4 1377.6,865.8 1378.6,875.6 C1379.6,885.4 1381.3,900.9 1382.1,910.7 C1382.9,920.5 1383.9,936.0 1384.6,945.8 C1385.3,955.6 1386.7,971.0 1387.4,980.8 C1388.1,990.6 1389.2,1008.5 1389.8,1015.9 C1390.4,1023.3 1390.9,1033.5 1391.6,1033.5 C1392.3,1033.5 1394.3,1023.3 1395.1,1015.9 C1395.9,1008.5 1396.9,990.6 1397.6,980.8 C1398.3,971.0 1399.5,955.6 1400.4,945.8 C1401.3,936.0 1402.8,919.5 1403.9,910.7 C1405.0,901.9 1406.4,890.0 1408.1,882.6 C1409.8,875.2 1413.8,865.0 1416.2,858.1 C1418.6,851.2 1422.5,840.0 1424.9,833.6 C1427.4,827.2 1431.6,816.7 1433.7,812.5 C1435.8,808.3 1437.9,805.4 1440.0,803.7 C1442.1,802.0 1446.8,799.5 1448.8,800.2 C1450.8,800.9 1452.8,804.3 1454.0,809.0 C1455.2,813.7 1456.4,827.0 1457.5,833.6 C1458.6,840.2 1460.6,856.3 1461.7,856.3 C1462.8,856.3 1464.4,840.7 1465.3,833.6 C1466.2,826.5 1466.7,810.9 1468.1,805.5 C1469.5,800.1 1473.9,799.9 1475.1,795.0 C1476.3,790.1 1476.1,776.3 1476.8,770.4 C1477.5,764.5 1478.8,757.1 1480.3,752.9 C1481.8,748.7 1485.1,742.9 1487.3,740.6 C1489.5,738.3 1493.4,736.7 1496.1,736.4 C1498.8,736.1 1504.4,735.4 1506.6,738.2 C1508.8,741.0 1510.5,750.9 1511.9,756.4 C1513.3,761.9 1515.5,770.5 1516.5,777.4 C1517.5,784.3 1518.2,797.6 1518.9,805.5 C1519.6,813.4 1520.8,827.2 1521.4,833.6 C1522.0,840.0 1522.2,851.1 1523.5,851.1 C1524.8,851.1 1529.0,833.6 1530.5,833.6 C1532.0,833.6 1533.2,846.2 1534.0,851.1 C1534.8,856.0 1535.3,864.2 1536.4,868.6 C1537.5,873.0 1540.2,877.9 1541.7,882.6 C1543.2,887.3 1545.6,901.4 1547.0,901.9 C1548.4,902.4 1550.3,892.3 1551.5,886.2 C1552.7,880.1 1554.4,866.5 1555.7,858.1 C1557.0,849.7 1559.8,834.8 1561.0,826.5 C1562.2,818.2 1563.0,803.4 1564.5,798.5 C1566.0,793.6 1569.8,791.0 1571.5,791.5 C1573.2,792.0 1575.6,797.1 1576.8,802.0 C1578.0,806.9 1578.8,820.9 1580.3,826.5 C1581.8,832.1 1585.7,842.3 1587.3,842.3 C1588.9,842.3 1590.0,829.9 1591.5,826.5 C1593.0,823.1 1595.0,819.4 1597.8,817.8 C1600.6,816.2 1607.9,815.5 1611.8,815.3 C1615.7,815.1 1622.5,815.4 1625.9,816.7 C1629.3,818.0 1634.0,822.4 1636.4,824.8 C1638.9,827.2 1641.4,830.7 1643.4,833.6 C1645.4,836.5 1648.2,843.3 1650.4,845.8 C1652.6,848.2 1657.2,848.9 1659.2,851.1 C1661.2,853.3 1662.8,857.2 1664.5,861.6 C1666.2,866.0 1669.5,876.7 1671.5,882.6 C1673.5,888.5 1676.5,897.8 1678.5,903.7 C1680.5,909.6 1683.5,919.5 1685.5,924.7 C1687.5,929.9 1690.5,937.2 1692.5,940.5 C1694.5,943.8 1697.3,947.3 1699.5,948.6 C1701.7,949.9 1705.3,950.5 1708.3,950.0 C1711.3,949.5 1716.9,946.3 1720.6,945.1 C1724.3,943.9 1731.4,943.0 1734.6,941.6 C1737.8,940.2 1741.2,938.2 1743.4,935.3 C1745.6,932.4 1748.9,925.9 1750.4,921.2 C1751.9,916.5 1752.7,905.1 1753.9,901.9 C1755.1,898.7 1757.6,897.9 1759.1,898.4 C1760.6,898.9 1762.9,905.6 1764.4,905.4 C1765.9,905.2 1768.5,900.9 1769.7,896.7 C1770.9,892.5 1772.2,882.5 1773.2,875.6 C1774.2,868.7 1775.7,855.0 1776.7,847.6 C1777.7,840.2 1779.0,827.4 1780.2,823.0 C1781.4,818.6 1783.7,816.7 1785.4,816.0 C1787.1,815.3 1791.0,820.2 1792.5,817.8 C1794.0,815.3 1795.0,804.6 1796.0,798.5 C1797.0,792.4 1798.3,778.3 1799.5,773.9 C1800.7,769.5 1803.7,769.3 1804.7,766.9 C1805.7,764.5 1805.7,759.3 1806.3,756.6 C1806.9,753.9 1808.0,749.8 1808.9,747.8 C1809.8,745.8 1811.3,743.5 1812.4,742.6 C1813.5,741.7 1815.8,741.0 1816.8,741.7 C1817.8,742.4 1818.9,745.7 1819.5,747.8 C1820.1,749.9 1820.3,754.8 1821.2,756.6 C1822.1,758.4 1824.0,760.8 1825.6,761.0 C1827.2,761.2 1830.6,758.9 1832.6,758.3 C1834.6,757.7 1837.9,757.8 1839.6,756.6 C1841.3,755.4 1843.5,751.8 1844.9,749.6 C1846.3,747.4 1848.1,742.8 1849.3,740.8 C1850.5,738.8 1852.3,736.5 1853.6,735.5 C1854.9,734.5 1857.7,734.8 1858.9,733.8 C1860.1,732.8 1861.5,731.5 1862.4,728.5 C1863.3,725.5 1864.3,716.4 1865.0,712.7 C1865.7,709.0 1866.6,704.9 1867.7,702.2 C1868.8,699.5 1871.4,696.0 1872.9,693.5 C1874.4,691.0 1877.0,686.7 1878.2,684.7 C1879.4,682.7 1880.5,681.1 1881.7,679.4 C1882.9,677.7 1885.5,673.5 1887.0,672.4 C1888.5,671.3 1891.1,670.3 1892.2,671.5 C1893.3,672.7 1894.3,678.4 1894.9,681.2 C1895.5,684.0 1895.7,689.7 1896.6,691.7 C1897.5,693.7 1899.8,695.7 1901.0,695.2 C1902.2,694.7 1904.3,690.2 1905.4,688.2 C1906.5,686.2 1907.9,683.4 1908.9,681.2 C1909.9,679.0 1911.4,674.0 1912.4,672.4 C1913.4,670.8 1914.8,669.3 1915.9,669.8 C1917.0,670.3 1919.3,673.6 1920.3,675.9 C1921.3,678.2 1922.2,683.2 1922.9,686.4 C1923.6,689.6 1924.6,696.0 1925.5,698.7 C1926.4,701.4 1928.2,703.7 1929.1,705.7 C1930.0,707.7 1931.1,709.7 1931.7,712.7 C1932.3,715.7 1932.8,722.9 1933.4,726.8 C1934.0,730.7 1935.4,736.6 1936.1,740.8 C1936.8,745.0 1938.1,751.9 1938.7,756.6 C1939.3,761.3 1939.9,769.2 1940.4,774.1 C1940.9,779.0 1941.7,787.3 1942.2,791.7 C1942.7,796.1 1943.3,803.0 1944.0,805.7 C1944.7,808.4 1946.5,811.3 1947.5,811.3 C1948.5,811.3 1950.3,808.4 1951.0,805.7 C1951.7,803.0 1952.1,796.1 1952.7,791.7 C1953.3,787.3 1954.3,779.0 1955.0,774.1 C1955.7,769.2 1956.8,762.7 1957.5,756.6 C1958.2,750.5 1959.4,737.7 1960.1,730.3 C1960.8,722.9 1961.8,710.9 1962.4,704.0 C1963.0,697.1 1964.0,686.6 1964.5,681.2 C1965.0,675.8 1965.4,668.5 1965.9,665.4 C1966.4,662.2 1967.4,658.7 1968.0,658.7 C1968.6,658.7 1969.6,662.2 1970.1,665.4 C1970.6,668.5 1971.2,675.8 1971.7,681.2 C1972.2,686.6 1973.0,697.1 1973.4,704.0 C1973.8,710.9 1974.2,721.7 1974.6,730.3 C1974.9,738.9 1975.6,755.6 1975.9,765.4 C1976.2,775.2 1976.7,790.6 1977.1,800.4 C1977.5,810.2 1978.1,828.1 1978.7,835.5 C1979.3,842.9 1980.6,853.0 1981.3,853.0 C1982.0,853.0 1983.3,842.9 1983.8,835.5 C1984.3,828.1 1984.9,810.2 1985.2,800.4 C1985.5,790.6 1985.9,775.2 1986.2,765.4 C1986.5,755.6 1986.9,738.2 1987.4,730.3 C1987.9,722.4 1988.7,714.6 1989.5,709.2 C1990.3,703.8 1992.0,694.6 1993.1,691.7 C1994.2,688.8 1996.3,687.2 1997.4,688.2 C1998.5,689.2 2000.6,698.7 2001.3,698.7 C2002.0,698.7 2002.5,691.6 2002.7,688.2 C2002.9,684.8 2002.5,678.1 2002.7,674.2 C2002.9,670.3 2003.5,664.0 2004.1,660.1 C2004.7,656.2 2006.1,649.8 2007.1,646.1 C2008.1,642.4 2010.2,637.0 2011.5,633.8 C2012.8,630.6 2015.0,625.5 2016.7,623.3 C2018.4,621.1 2021.5,619.1 2023.7,618.1 C2025.9,617.1 2030.0,616.4 2032.5,616.3 C2035.0,616.2 2039.1,616.5 2041.3,617.2 C2043.5,617.9 2046.3,619.8 2048.3,621.6 C2050.3,623.4 2053.5,627.4 2055.3,630.3 C2057.1,633.2 2060.1,639.2 2061.4,642.6 C2062.7,646.0 2063.5,652.2 2064.9,654.9 C2066.3,657.6 2069.3,660.2 2071.1,661.9 C2072.9,663.6 2076.4,666.3 2078.1,667.2 C2079.8,668.1 2081.9,668.9 2083.4,668.6 C2084.9,668.3 2087.1,667.1 2088.6,665.4 C2090.1,663.7 2092.2,659.5 2093.9,656.6 C2095.6,653.7 2098.9,647.8 2100.9,644.4 C2102.9,641.0 2105.9,635.5 2107.9,632.1 C2109.9,628.7 2112.9,623.2 2114.9,619.8 C2116.9,616.4 2120.1,610.6 2121.9,607.5 C2123.7,604.4 2127.2,599.2 2128.1,597.9" fill="none" stroke="#ff0000" stroke-width="12.2" stroke-linejoin="round" stroke-linecap="butt"/>
<path clip-path="url(#cp)" d="M80.0,905.4 C82.1,906.0 90.2,909.3 94.7,910.0 C99.2,910.7 107.8,909.6 112.2,910.7 C116.6,911.8 122.4,915.0 126.3,917.7 C130.2,920.4 136.4,926.3 140.3,930.0 C144.2,933.7 150.9,940.8 154.3,944.0 C157.7,947.2 161.8,951.2 164.8,952.8 C167.8,954.4 172.0,955.5 175.4,955.6 C178.8,955.7 185.7,953.7 189.4,953.5 C193.1,953.3 198.3,952.6 201.7,954.5 C205.1,956.4 210.7,963.1 213.9,966.8 C217.1,970.5 221.1,977.1 224.5,980.8 C227.9,984.5 234.6,990.0 238.5,993.1 C242.4,996.2 248.6,999.4 252.5,1002.6 C256.4,1005.8 263.5,1013.1 266.5,1015.9 C269.5,1018.7 271.6,1019.2 273.6,1022.9 C275.6,1026.6 278.6,1037.3 280.6,1042.2 C282.6,1047.1 285.9,1052.8 287.6,1058.0 C289.3,1063.2 291.3,1073.1 292.8,1079.0 C294.3,1084.9 296.6,1095.2 298.1,1100.1 C299.6,1105.0 302.0,1109.2 303.4,1114.1 C304.8,1119.0 306.4,1129.5 307.9,1135.2 C309.4,1140.9 312.1,1150.8 313.9,1155.1 C315.7,1159.4 319.2,1161.2 320.9,1165.6 C322.6,1170.0 324.7,1181.2 326.2,1186.6 C327.7,1192.0 329.9,1198.8 331.4,1204.2 C332.9,1209.6 335.2,1219.8 336.7,1225.2 C338.2,1230.6 340.4,1237.8 341.9,1242.7 C343.4,1247.6 345.5,1256.4 347.2,1260.3 C348.9,1264.2 352.2,1267.9 354.2,1270.8 C356.2,1273.7 358.8,1278.4 361.2,1281.3 C363.6,1284.2 368.7,1289.1 371.7,1291.8 C374.7,1294.5 379.3,1298.9 382.3,1300.6 C385.3,1302.3 390.4,1302.6 392.8,1304.1 C395.2,1305.6 397.8,1311.1 399.8,1311.1 C401.8,1311.1 403.9,1306.5 406.8,1304.1 C409.7,1301.6 416.9,1297.3 420.8,1293.6 C424.7,1289.9 431.5,1282.5 434.9,1277.8 C438.3,1273.1 442.5,1265.5 445.4,1260.3 C448.3,1255.1 453.0,1245.9 455.9,1241.0 C458.8,1236.1 463.0,1230.4 466.4,1225.2 C469.8,1220.0 476.1,1209.8 480.5,1204.2 C484.9,1198.6 492.6,1189.6 498.0,1184.9 C503.4,1180.2 513.1,1174.1 519.0,1170.9 C524.9,1167.7 534.2,1164.8 540.1,1162.1 C546.0,1159.4 556.2,1153.5 561.1,1151.6 C566.0,1149.7 572.0,1148.3 575.2,1148.8 C578.4,1149.3 581.7,1151.3 583.9,1155.1 C586.1,1158.9 588.9,1171.2 590.9,1176.1 C592.9,1181.0 596.3,1185.7 598.0,1190.1 C599.7,1194.5 602.0,1201.1 603.2,1207.7 C604.4,1214.3 605.2,1233.6 606.7,1237.5 C608.2,1241.4 612.2,1232.5 613.7,1235.7 C615.2,1238.9 616.2,1254.6 617.2,1260.3 C618.2,1266.0 619.6,1276.8 620.8,1276.1 C622.0,1275.4 624.5,1257.7 626.0,1255.0 C627.5,1252.3 630.1,1252.1 631.3,1256.8 C632.5,1261.5 633.9,1279.0 634.8,1288.3 C635.7,1297.6 636.9,1315.0 637.6,1323.4 C638.3,1331.8 639.2,1348.0 640.0,1348.0 C640.8,1348.0 642.8,1329.8 643.5,1323.4 C644.2,1317.0 644.3,1306.6 645.3,1302.4 C646.3,1298.2 649.1,1292.6 650.6,1293.6 C652.1,1294.6 654.4,1304.7 655.8,1309.4 C657.2,1314.1 659.3,1320.0 660.4,1326.9 C661.5,1333.8 662.6,1349.2 663.5,1358.5 C664.4,1367.8 665.8,1383.8 666.7,1393.6 C667.6,1403.4 668.9,1418.8 669.8,1428.6 C670.7,1438.4 672.5,1455.8 673.4,1463.7 C674.3,1471.6 674.8,1484.2 676.5,1484.7 C678.2,1485.2 683.8,1467.7 685.6,1467.2 C687.4,1466.7 687.6,1477.5 689.1,1481.2 C690.6,1484.9 694.5,1493.5 696.2,1493.5 C697.9,1493.5 699.9,1486.4 701.4,1481.2 C702.9,1476.0 705.0,1464.1 706.7,1456.7 C708.4,1449.3 711.8,1434.9 713.7,1428.6 C715.6,1422.3 717.9,1415.5 720.0,1411.8 C722.1,1408.1 726.8,1407.8 728.8,1402.3 C730.8,1396.8 732.3,1380.1 734.0,1372.5 C735.7,1364.9 739.3,1356.3 741.0,1348.0 C742.7,1339.7 744.8,1322.7 746.3,1312.9 C747.8,1303.1 750.4,1287.6 751.6,1277.8 C752.8,1268.0 754.3,1251.3 755.1,1242.7 C755.9,1234.1 756.8,1221.4 757.5,1216.3 C758.2,1211.2 759.2,1208.9 760.0,1206.6 C760.8,1204.3 762.3,1202.7 763.1,1200.1 C763.9,1197.5 764.8,1191.8 765.4,1188.2 C766.0,1184.6 766.8,1177.6 767.7,1174.2 C768.6,1170.8 770.6,1166.6 771.9,1163.6 C773.2,1160.6 775.7,1155.7 777.2,1153.1 C778.7,1150.5 780.9,1146.7 782.4,1145.2 C783.9,1143.7 785.5,1142.7 787.7,1142.1 C789.9,1141.5 795.3,1141.2 798.2,1140.9 C801.1,1140.6 805.3,1141.2 808.7,1140.0 C812.1,1138.8 818.3,1134.4 822.7,1132.1 C827.1,1129.8 835.4,1125.3 840.3,1123.3 C845.2,1121.3 852.9,1119.3 857.8,1118.1 C862.7,1116.9 870.5,1115.7 875.4,1114.5 C880.3,1113.3 888.0,1110.6 892.9,1109.3 C897.8,1108.0 906.6,1105.7 910.5,1104.9 C914.4,1104.1 917.6,1103.9 921.0,1103.7 C924.4,1103.5 931.4,1103.4 935.1,1103.2 C938.8,1103.0 944.6,1102.8 947.3,1102.3 C950.0,1101.8 952.4,1099.8 954.4,1099.6 C956.4,1099.4 958.7,1100.9 961.4,1100.9 C964.1,1100.9 970.7,1100.0 973.6,1099.6 C976.5,1099.2 980.4,1098.5 982.4,1097.9 C984.4,1097.3 986.2,1095.4 987.7,1095.3 C989.2,1095.2 991.4,1095.9 992.9,1097.0 C994.4,1098.1 996.7,1101.5 998.2,1103.2 C999.7,1104.9 1002.2,1107.2 1003.5,1109.3 C1004.8,1111.4 1006.9,1114.7 1007.8,1118.1 C1008.7,1121.5 1009.1,1129.1 1009.6,1133.8 C1010.1,1138.5 1010.8,1147.0 1011.3,1151.4 C1011.8,1155.8 1012.4,1162.2 1013.1,1165.4 C1013.8,1168.6 1015.6,1171.5 1016.6,1174.2 C1017.6,1176.9 1019.2,1181.8 1020.1,1184.7 C1021.0,1187.6 1021.8,1194.7 1022.7,1195.2 C1023.6,1195.7 1025.4,1190.8 1026.3,1188.2 C1027.2,1185.6 1028.0,1177.3 1028.9,1176.8 C1029.8,1176.3 1031.5,1183.2 1032.4,1184.7 C1033.3,1186.2 1034.5,1188.8 1035.4,1187.3 C1036.3,1185.8 1037.8,1178.0 1038.5,1174.2 C1039.2,1170.4 1039.7,1163.1 1040.3,1160.1 C1040.9,1157.1 1042.2,1155.5 1042.9,1153.1 C1043.6,1150.6 1044.6,1145.2 1045.5,1142.6 C1046.4,1140.0 1047.9,1135.9 1049.1,1134.7 C1050.3,1133.5 1052.8,1134.2 1054.3,1133.8 C1055.8,1133.4 1058.1,1133.3 1059.6,1132.1 C1061.1,1130.9 1063.8,1127.1 1064.8,1125.1 C1065.8,1123.1 1066.0,1119.7 1066.6,1118.1 C1067.2,1116.5 1068.0,1114.6 1069.2,1113.7 C1070.4,1112.8 1073.8,1112.8 1075.4,1111.9 C1077.0,1111.0 1078.9,1108.8 1080.6,1107.5 C1082.3,1106.2 1085.4,1103.6 1087.6,1102.3 C1089.8,1101.0 1093.7,1099.1 1096.4,1097.9 C1099.1,1096.7 1103.7,1094.4 1106.9,1093.5 C1110.1,1092.6 1113.8,1092.0 1119.2,1091.8 C1124.6,1091.6 1138.1,1091.7 1145.5,1091.8 C1152.9,1091.9 1165.7,1092.1 1171.8,1092.6 C1177.9,1093.1 1184.4,1094.7 1189.3,1095.3 C1194.2,1095.9 1202.0,1096.3 1206.9,1096.7 C1211.8,1097.1 1220.2,1097.2 1224.4,1097.9 C1228.6,1098.6 1233.8,1100.2 1236.7,1101.4 C1239.6,1102.6 1243.4,1104.9 1245.4,1106.7 C1247.4,1108.5 1249.2,1112.2 1250.7,1114.5 C1252.2,1116.8 1254.3,1121.4 1256.0,1123.3 C1257.7,1125.2 1261.1,1128.9 1262.9,1128.1 C1264.7,1127.3 1267.3,1120.0 1268.9,1117.6 C1270.5,1115.1 1272.1,1112.1 1274.1,1110.6 C1276.1,1109.1 1280.4,1106.6 1282.9,1107.1 C1285.4,1107.6 1288.8,1112.4 1291.7,1114.1 C1294.6,1115.8 1301.0,1119.9 1303.9,1119.4 C1306.8,1118.9 1310.2,1112.6 1312.7,1110.6 C1315.2,1108.6 1319.0,1105.0 1321.5,1105.3 C1324.0,1105.6 1328.0,1109.7 1330.2,1112.4 C1332.4,1115.1 1335.0,1120.9 1337.2,1124.6 C1339.4,1128.3 1343.5,1136.5 1346.0,1138.7 C1348.5,1140.9 1352.6,1138.0 1354.8,1140.4 C1357.0,1142.9 1359.8,1151.7 1361.8,1156.2 C1363.8,1160.7 1367.2,1166.9 1368.8,1172.6 C1370.4,1178.3 1371.9,1189.8 1373.0,1197.2 C1374.1,1204.6 1375.6,1216.4 1376.5,1225.2 C1377.4,1234.0 1378.7,1250.5 1379.3,1260.3 C1379.9,1270.1 1380.5,1283.1 1381.1,1295.4 C1381.7,1307.7 1382.8,1333.3 1383.5,1348.0 C1384.2,1362.7 1385.7,1388.3 1386.3,1400.6 C1386.9,1412.9 1387.5,1425.3 1388.1,1435.6 C1388.7,1445.9 1389.8,1474.2 1390.6,1474.2 C1391.4,1474.2 1393.2,1448.4 1394.1,1435.6 C1395.0,1422.8 1396.0,1397.7 1396.9,1383.0 C1397.8,1368.3 1399.4,1345.1 1400.4,1330.4 C1401.4,1315.7 1402.9,1289.6 1403.9,1277.8 C1404.9,1266.0 1406.2,1254.2 1407.4,1246.3 C1408.6,1238.4 1410.9,1227.6 1412.6,1221.7 C1414.3,1215.8 1417.7,1208.4 1419.7,1204.2 C1421.7,1200.0 1424.7,1194.1 1426.7,1191.9 C1428.7,1189.7 1431.8,1187.9 1433.7,1188.4 C1435.6,1188.9 1437.4,1195.4 1440.0,1195.4 C1442.6,1195.4 1450.1,1186.2 1452.3,1188.4 C1454.5,1190.6 1455.0,1204.6 1455.8,1211.2 C1456.6,1217.8 1457.7,1230.5 1458.2,1235.7 C1458.7,1240.9 1459.1,1245.4 1459.6,1248.0 C1460.1,1250.6 1461.1,1254.0 1461.7,1254.0 C1462.3,1254.0 1463.3,1250.6 1463.8,1248.0 C1464.3,1245.4 1464.8,1243.8 1465.3,1235.7 C1465.8,1227.6 1466.8,1198.2 1467.4,1190.1 C1468.0,1182.0 1468.7,1180.1 1469.8,1177.9 C1470.9,1175.7 1474.1,1177.6 1475.1,1174.4 C1476.1,1171.2 1476.1,1160.3 1476.8,1155.1 C1477.5,1149.9 1478.6,1140.9 1480.3,1137.5 C1482.0,1134.1 1486.6,1131.5 1489.1,1130.5 C1491.6,1129.5 1495.7,1129.8 1497.9,1130.5 C1500.1,1131.2 1503.2,1132.8 1504.9,1135.8 C1506.6,1138.8 1508.6,1146.4 1510.1,1151.6 C1511.6,1156.8 1514.3,1166.2 1515.4,1172.6 C1516.5,1179.0 1517.3,1188.9 1517.9,1197.2 C1518.5,1205.5 1519.5,1222.4 1520.0,1232.2 C1520.5,1242.0 1521.1,1258.5 1521.4,1267.3 C1521.7,1276.1 1521.3,1297.9 1522.4,1295.4 C1523.5,1293.0 1528.1,1252.3 1529.4,1249.8 C1530.7,1247.3 1531.3,1269.0 1531.9,1277.8 C1532.5,1286.6 1533.4,1304.6 1534.0,1312.9 C1534.6,1321.2 1535.1,1333.0 1536.4,1337.4 C1537.7,1341.8 1542.0,1336.4 1543.5,1344.5 C1545.0,1352.6 1546.0,1392.4 1547.0,1395.3 C1548.0,1398.2 1549.5,1374.6 1550.5,1365.5 C1551.5,1356.4 1553.0,1339.2 1554.0,1330.4 C1555.0,1321.6 1556.5,1312.2 1557.5,1302.4 C1558.5,1292.6 1560.0,1273.1 1561.0,1260.3 C1562.0,1247.5 1563.2,1222.0 1564.5,1211.2 C1565.8,1200.4 1568.8,1184.6 1570.5,1183.1 C1572.2,1181.6 1575.4,1193.8 1576.8,1200.7 C1578.2,1207.6 1579.4,1222.9 1580.3,1232.2 C1581.2,1241.5 1582.4,1258.5 1583.1,1267.3 C1583.8,1276.1 1584.7,1290.0 1585.5,1295.4 C1586.3,1300.8 1587.9,1306.4 1589.1,1305.9 C1590.3,1305.4 1593.2,1297.2 1594.3,1291.8 C1595.4,1286.4 1596.1,1272.2 1596.8,1267.3 C1597.5,1262.4 1599.0,1262.7 1599.6,1256.8 C1600.2,1250.9 1600.1,1231.1 1601.3,1225.2 C1602.5,1219.3 1606.3,1217.4 1608.3,1214.7 C1610.3,1212.0 1612.9,1207.8 1615.4,1205.9 C1617.9,1204.0 1623.2,1201.9 1625.9,1201.4 C1628.6,1200.9 1632.4,1202.9 1634.6,1202.4 C1636.8,1201.9 1640.0,1196.9 1641.7,1197.9 C1643.4,1198.9 1644.7,1207.6 1646.9,1209.4 C1649.1,1211.2 1654.9,1208.3 1657.4,1210.5 C1659.9,1212.7 1662.9,1220.2 1664.5,1225.2 C1666.1,1230.2 1667.5,1240.9 1668.7,1246.3 C1669.9,1251.7 1672.1,1259.4 1673.2,1263.8 C1674.3,1268.2 1675.5,1273.9 1676.7,1277.8 C1677.9,1281.7 1680.5,1286.9 1682.0,1291.8 C1683.5,1296.7 1685.7,1308.2 1687.2,1312.9 C1688.7,1317.6 1691.0,1321.5 1692.5,1325.2 C1694.0,1328.9 1696.3,1336.3 1697.8,1339.2 C1699.3,1342.1 1701.7,1346.9 1703.0,1346.2 C1704.3,1345.5 1706.2,1338.6 1707.2,1333.9 C1708.2,1329.2 1708.6,1316.6 1710.0,1312.9 C1711.4,1309.2 1715.6,1311.5 1717.1,1307.6 C1718.6,1303.7 1719.5,1288.9 1720.6,1284.8 C1721.7,1280.7 1723.6,1277.5 1724.8,1278.5 C1726.0,1279.5 1727.9,1288.0 1729.3,1291.8 C1730.7,1295.6 1733.1,1303.7 1734.6,1305.9 C1736.1,1308.1 1738.4,1309.1 1739.9,1307.6 C1741.4,1306.1 1743.9,1300.6 1745.1,1295.4 C1746.3,1290.2 1747.7,1279.6 1748.6,1270.8 C1749.5,1262.0 1750.7,1240.5 1751.4,1232.2 C1752.1,1223.9 1753.1,1215.9 1753.9,1211.2 C1754.7,1206.5 1756.4,1197.9 1757.4,1198.9 C1758.4,1199.9 1760.1,1211.6 1760.9,1218.2 C1761.7,1224.8 1762.7,1240.4 1763.4,1246.3 C1764.1,1252.2 1765.3,1260.8 1766.2,1260.3 C1767.1,1259.8 1768.7,1250.1 1769.7,1242.7 C1770.7,1235.3 1772.3,1217.5 1773.2,1207.7 C1774.1,1197.9 1775.1,1180.9 1776.0,1172.6 C1776.9,1164.3 1778.4,1153.0 1779.5,1148.1 C1780.6,1143.2 1782.6,1136.0 1783.7,1137.5 C1784.8,1139.0 1786.4,1151.2 1787.2,1158.6 C1788.0,1166.0 1789.1,1183.7 1789.7,1190.1 C1790.3,1196.5 1791.2,1204.2 1791.8,1204.2 C1792.4,1204.2 1793.3,1195.0 1794.2,1190.1 C1795.1,1185.2 1797.2,1174.3 1798.4,1169.1 C1799.6,1163.9 1801.4,1156.2 1803.0,1153.3 C1804.6,1150.4 1808.8,1150.6 1810.0,1148.1 C1811.2,1145.6 1811.0,1140.0 1811.7,1135.2 C1812.4,1130.4 1813.6,1117.3 1815.3,1114.1 C1817.0,1110.9 1822.0,1112.1 1824.0,1112.4 C1826.0,1112.7 1827.3,1115.7 1829.3,1115.9 C1831.3,1116.1 1836.1,1117.1 1838.1,1114.1 C1840.1,1111.1 1841.6,1096.3 1843.3,1094.8 C1845.0,1093.3 1848.6,1105.3 1850.3,1103.6 C1852.0,1101.9 1853.9,1085.5 1855.6,1082.6 C1857.3,1079.7 1861.1,1084.6 1862.6,1082.6 C1864.1,1080.6 1864.8,1068.0 1866.1,1068.5 C1867.4,1069.0 1870.9,1087.1 1872.1,1086.1 C1873.3,1085.1 1874.1,1068.9 1874.9,1061.5 C1875.7,1054.1 1876.5,1038.2 1877.7,1033.5 C1878.9,1028.8 1882.0,1029.2 1883.6,1028.2 C1885.2,1027.2 1887.7,1029.8 1888.9,1026.4 C1890.1,1023.0 1891.4,1007.3 1892.4,1003.6 C1893.4,999.9 1894.7,999.4 1895.9,1000.1 C1897.1,1000.8 1900.0,1009.6 1901.2,1008.9 C1902.4,1008.2 1903.7,1000.3 1904.7,994.9 C1905.7,989.5 1907.0,975.0 1908.2,970.3 C1909.4,965.6 1912.0,960.6 1913.5,961.6 C1915.0,962.6 1917.5,971.2 1918.7,977.3 C1919.9,983.4 1921.0,1004.4 1922.2,1005.4 C1923.4,1006.4 1926.3,984.9 1927.5,984.4 C1928.7,983.9 1930.0,996.0 1931.0,1001.9 C1932.0,1007.8 1933.6,1017.1 1934.5,1026.4 C1935.4,1035.7 1936.3,1055.2 1937.3,1068.5 C1938.3,1081.8 1940.7,1105.2 1941.7,1121.1 C1942.8,1137.0 1944.1,1169.7 1944.8,1182.2 C1945.5,1194.7 1946.2,1205.4 1946.6,1210.7 C1947.0,1216.0 1947.1,1219.8 1947.4,1219.8 C1947.7,1219.8 1948.2,1216.0 1948.5,1210.7 C1948.8,1205.4 1949.4,1191.9 1949.9,1182.2 C1950.4,1172.5 1951.2,1152.8 1951.9,1141.4 C1952.6,1130.0 1954.0,1112.1 1955.0,1100.7 C1956.0,1089.3 1958.1,1071.3 1959.0,1060.0 C1959.9,1048.7 1961.0,1029.5 1961.5,1020.3 C1962.0,1011.1 1962.6,1001.4 1962.9,994.0 C1963.2,986.6 1963.6,973.6 1963.9,967.7 C1964.2,961.8 1964.7,955.2 1965.2,951.9 C1965.7,948.6 1966.7,944.0 1967.3,944.0 C1967.9,944.0 1968.9,948.6 1969.4,951.9 C1969.9,955.2 1970.6,961.8 1971.0,967.7 C1971.4,973.6 1971.7,986.6 1972.0,994.0 C1972.3,1001.4 1972.6,1012.9 1972.9,1020.3 C1973.2,1027.7 1973.7,1039.6 1973.8,1046.6 C1973.9,1053.6 1973.5,1059.8 1973.7,1070.2 C1973.9,1080.6 1974.8,1105.4 1975.3,1121.1 C1975.8,1136.8 1976.7,1165.1 1977.0,1182.2 C1977.3,1199.3 1977.5,1226.2 1977.8,1243.3 C1978.1,1260.4 1978.6,1287.2 1979.0,1304.3 C1979.4,1321.4 1980.1,1352.6 1980.4,1365.4 C1980.7,1378.2 1981.1,1396.0 1981.4,1396.0 C1981.7,1396.0 1982.2,1378.2 1982.5,1365.4 C1982.8,1352.6 1983.2,1321.4 1983.5,1304.3 C1983.8,1287.2 1984.2,1260.4 1984.5,1243.3 C1984.8,1226.2 1985.4,1199.3 1985.9,1182.2 C1986.4,1165.1 1987.4,1136.8 1988.0,1121.1 C1988.6,1105.4 1989.8,1079.4 1990.4,1070.2 C1991.0,1061.0 1991.8,1061.2 1992.3,1055.4 C1992.8,1049.6 1993.6,1036.0 1994.1,1029.1 C1994.6,1022.2 1995.2,1011.1 1995.7,1006.3 C1996.2,1001.5 1997.6,998.3 1998.0,994.9 C1998.4,991.5 1998.6,986.0 1998.8,981.7 C1999.0,977.4 1998.9,968.6 1999.4,964.2 C1999.9,959.8 2001.3,952.7 2002.3,950.1 C2003.3,947.5 2005.5,946.5 2006.7,945.8 C2007.9,945.1 2010.1,946.7 2011.1,944.9 C2012.1,943.1 2013.0,935.6 2014.1,932.6 C2015.2,929.6 2017.3,925.6 2019.0,923.8 C2020.7,922.0 2024.0,920.5 2026.0,919.5 C2028.0,918.5 2030.8,917.3 2033.0,916.8 C2035.2,916.3 2039.6,915.8 2041.8,915.9 C2044.0,916.0 2047.5,915.9 2048.8,917.7 C2050.1,919.5 2050.5,925.8 2051.4,929.1 C2052.3,932.4 2054.0,937.2 2054.9,941.4 C2055.8,945.6 2056.9,954.0 2057.6,958.9 C2058.3,963.8 2059.5,972.7 2060.2,976.4 C2060.9,980.1 2061.7,983.1 2062.8,985.2 C2063.9,987.3 2066.5,990.1 2068.1,991.3 C2069.7,992.5 2072.7,994.9 2074.2,994.0 C2075.7,993.1 2077.7,988.9 2078.6,985.2 C2079.5,981.5 2079.4,971.1 2080.4,967.7 C2081.4,964.3 2084.1,963.2 2085.6,960.7 C2087.1,958.2 2089.2,953.5 2090.9,950.1 C2092.6,946.7 2095.9,939.8 2097.9,936.1 C2099.9,932.4 2102.7,927.0 2104.9,923.8 C2107.1,920.6 2110.7,916.1 2113.7,913.3 C2116.7,910.5 2124.3,905.0 2126.0,903.7" fill="none" stroke="#0000ff" stroke-width="12.2" stroke-linejoin="round" stroke-linecap="butt"/>
<text x="79.5" y="1645" font-family="'Liberation Serif', serif" font-size="68" text-anchor="middle" textLength="129" lengthAdjust="spacingAndGlyphs">4000</text>
<text x="367.64" y="1645" font-family="'Liberation Serif', serif" font-size="68" text-anchor="middle" textLength="129" lengthAdjust="spacingAndGlyphs">3500</text>
<text x="655.78" y="1645" font-family="'Liberation Serif', serif" font-size="68" text-anchor="middle" textLength="129" lengthAdjust="spacingAndGlyphs">3000</text>
<text x="943.92" y="1645" font-family="'Liberation Serif', serif" font-size="68" text-anchor="middle" textLength="129" lengthAdjust="spacingAndGlyphs">2500</text>
<text x="1232.06" y="1645" font-family="'Liberation Serif', serif" font-size="68" text-anchor="middle" textLength="129" lengthAdjust="spacingAndGlyphs">2000</text>
<text x="1520.1999999999998" y="1645" font-family="'Liberation Serif', serif" font-size="68" text-anchor="middle" textLength="129" lengthAdjust="spacingAndGlyphs">1500</text>
<text x="1808.34" y="1645" font-family="'Liberation Serif', serif" font-size="68" text-anchor="middle" textLength="129" lengthAdjust="spacingAndGlyphs">1000</text>
<text x="2096.48" y="1645" font-family="'Liberation Serif', serif" font-size="68" text-anchor="middle" textLength="96" lengthAdjust="spacingAndGlyphs">500</text>
<text x="794" y="1809.5" font-family="'Liberation Serif', serif" font-size="86" textLength="404" lengthAdjust="spacingAndGlyphs">wavelength</text>
<text x="1221" y="1809.5" font-family="'Liberation Serif', serif" font-size="86" textLength="124" lengthAdjust="spacingAndGlyphs">(cm</text>
<text x="1349" y="1769" font-family="'Liberation Serif', serif" font-size="46" textLength="37" lengthAdjust="spacingAndGlyphs">-1</text>
<text x="1388" y="1809.5" font-family="'Liberation Serif', serif" font-size="86">)</text>
<text x="1066" y="163" font-family="'Liberation Serif', serif" font-weight="bold" font-size="64" textLength="138" lengthAdjust="spacingAndGlyphs">TTO</text>
<text x="911" y="555.7" font-family="'Liberation Serif', serif" font-weight="bold" font-size="52" textLength="567" lengthAdjust="spacingAndGlyphs">P(St-BMA) microspheres</text>
<text x="851" y="1334" font-family="'Liberation Serif', serif" font-weight="bold" font-size="56" textLength="453" lengthAdjust="spacingAndGlyphs">TTO microspheres</text>
<text x="1662" y="571.8" font-family="'Liberation Serif', serif" font-weight="bold" font-size="58" textLength="116" lengthAdjust="spacingAndGlyphs">1127</text>
<text x="1911" y="583.2" font-family="'Liberation Serif', serif" font-weight="bold" font-size="58" textLength="82.5" lengthAdjust="spacingAndGlyphs">910</text>
<text x="783.5" y="1037.2" font-family="'Liberation Serif', serif" font-weight="bold" font-size="58" textLength="114.5" lengthAdjust="spacingAndGlyphs">2926</text>
<text x="471.5" y="1095.7" font-family="'Liberation Serif', serif" font-weight="bold" font-size="58" textLength="113" lengthAdjust="spacingAndGlyphs">2965</text>
<text x="412" y="1514.6" font-family="'Liberation Serif', serif" font-weight="bold" font-size="58" textLength="116" lengthAdjust="spacingAndGlyphs">2965</text>
<text x="1700.5" y="1488.3" font-family="'Liberation Serif', serif" font-weight="bold" font-size="58" textLength="118" lengthAdjust="spacingAndGlyphs">1127</text>
<text x="1847.3" y="1394.3" font-family="'Liberation Serif', serif" font-weight="bold" font-size="58" textLength="85.5" lengthAdjust="spacingAndGlyphs">910</text>
<path d="M1736.9,484.0 L1739.0,324.5" stroke="#000" stroke-width="3.4" fill="none"/>
<path d="M1739.5,286.5 L1749.5,324.6 L1728.5,324.4 Z" fill="#000"/>
<path d="M1904.3,559.5 L1885.6,623.5" stroke="#000" stroke-width="3.4" fill="none"/>
<path d="M1874.9,660.0 L1875.5,620.6 L1895.6,626.5 Z" fill="#000"/>
<path d="M781.9,1002.8 L723.9,958.7" stroke="#000" stroke-width="3.4" fill="none"/>
<path d="M693.7,935.7 L730.3,950.4 L717.6,967.1 Z" fill="#000"/>
<path d="M602.3,1084.0 L651.0,1218.5" stroke="#000" stroke-width="3.4" fill="none"/>
<path d="M664.0,1254.2 L641.2,1222.1 L660.9,1214.9 Z" fill="#000"/>
<path d="M545.4,1493.5 L628.8,1481.4" stroke="#000" stroke-width="3.4" fill="none"/>
<path d="M666.4,1476.0 L630.3,1491.8 L627.3,1471.0 Z" fill="#000"/>
<path d="M1769.7,1414.6 L1755.7,1356.2" stroke="#000" stroke-width="3.4" fill="none"/>
<path d="M1746.9,1319.2 L1765.9,1353.7 L1745.5,1358.6 Z" fill="#000"/>
<path d="M1895.3,1304.1 L1879.5,1134.5" stroke="#000" stroke-width="3.4" fill="none"/>
<path d="M1876.0,1096.7 L1890.0,1133.6 L1869.1,1135.5 Z" fill="#000"/>
</svg>
</body></html>
